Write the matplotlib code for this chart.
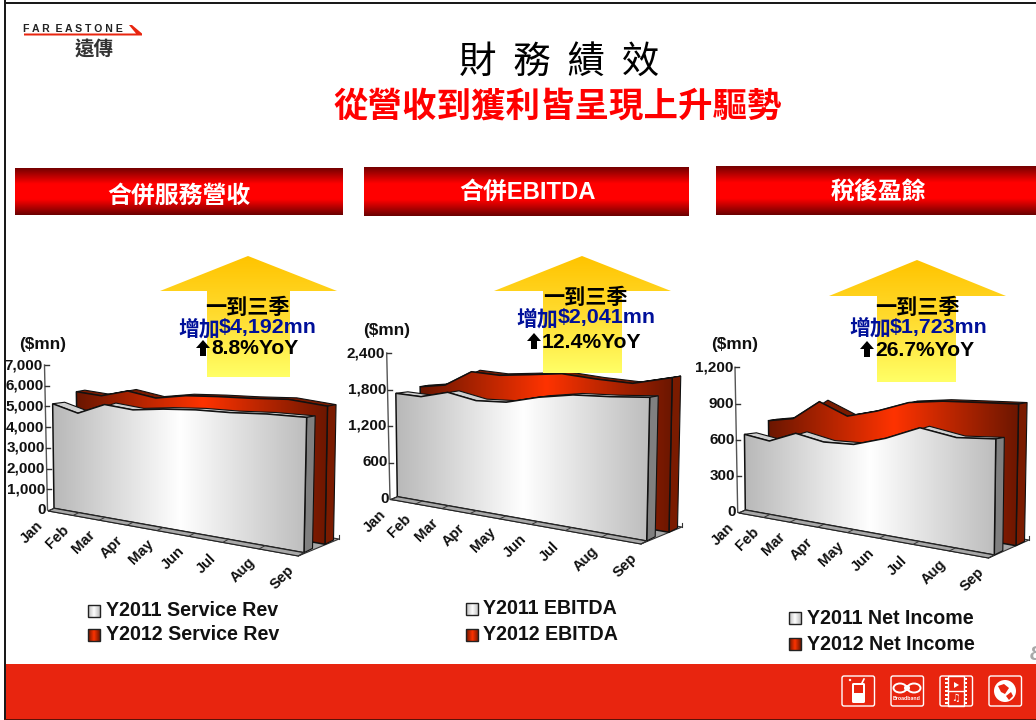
import numpy as np
import matplotlib
matplotlib.use("Agg")
import matplotlib.pyplot as plt
from matplotlib.colors import LinearSegmentedColormap
from matplotlib.patches import Polygon, Rectangle, FancyBboxPatch, Circle, Ellipse

plt.rcParams['font.family'] = ['Liberation Sans', 'Noto Sans CJK TC', 'DejaVu Sans']
CJK = ['Noto Sans CJK TC', 'DejaVu Sans']
LAT = ['Liberation Sans', 'Noto Sans CJK TC']

months = ['Jan', 'Feb', 'Mar', 'Apr', 'May', 'Jun', 'Jul', 'Aug', 'Sep']

rev_2011 = [5217, 4752, 5154, 4909, 4940, 4909, 4805, 4759, 4651]
rev_2012 = [5767, 5539, 5763, 5413, 5514, 5467, 5389, 5347, 5096]
ebitda_2011 = [1750, 1694, 1762, 1636, 1617, 1688, 1719, 1697, 1690]
ebitda_2012 = [1836, 1865, 2085, 2018, 2020, 2027, 1945, 1883, 1954]
ni_2011 = [641, 595, 665, 608, 601, 653, 729, 674, 674]
ni_2012 = [732, 757, 902, 787, 830, 894, 903, 894, 884]

rev_ticks = [0, 1000, 2000, 3000, 4000, 5000, 6000, 7000]
ebitda_ticks = [0, 600, 1200, 1800, 2400]
ni_ticks = [0, 300, 600, 900, 1200]

title = '財  務  績  效'
subtitle = '從營收到獲利皆呈現上升驅勢'
sections = ['合併服務營收', '合併EBITDA', '稅後盈餘']
period = '一到三季'
increase_label = '增加'
increases = ['$4,192mn', '$2,041mn', '$1,723mn']
yoy = ['8.8%YoY', '12.4%YoY', '26.7%YoY']
legend_2011 = ['Y2011 Service Rev', 'Y2011 EBITDA', 'Y2011 Net Income']
legend_2012 = ['Y2012 Service Rev', 'Y2012 EBITDA', 'Y2012 Net Income']

fig = plt.figure(figsize=(10.36, 7.2), dpi=100, facecolor='white')
ax = fig.add_axes([0, 0, 1, 1])
ax.set_xlim(0, 1036)
ax.set_ylim(720, 0)
ax.axis('off')

gray_cm = LinearSegmentedColormap.from_list('g', ['#b8b8b8', '#ffffff', '#bcbcbc'])
red_cm = LinearSegmentedColormap.from_list('r', ['#6a1600', '#ff3300', '#6a1600'])
banner_cm = LinearSegmentedColormap.from_list('b', ['#740000', '#ff0000', '#ff0000', '#6a0000'])
arrow_cm = LinearSegmentedColormap.from_list('a', ['#ffc400', '#ffdc30', '#ffff66'])


def gradient(poly_xy, cmap, box, vertical=False, z=2):
    """Fill a polygon with a linear gradient over box = (x0, y0, x1, y1)."""
    x0, y0, x1, y1 = box
    g = np.linspace(0, 1, 128)
    arr = g[:, None] if vertical else g[None, :]
    im = ax.imshow(arr, cmap=cmap, extent=(x0, x1, y1, y0), aspect='auto',
                   interpolation='bilinear', zorder=z, vmin=0, vmax=1)
    p = Polygon(poly_xy, closed=True, transform=ax.transData)
    im.set_clip_path(p)
    return im


class Wall:
    """Perspective wall: category index + value -> figure pixel."""
    R = 1.3

    def __init__(self, bl, br, tl, tr, vmax):
        self.bl, self.br, self.tl, self.tr = map(np.array, (bl, br, tl, tr))
        self.vmax = vmax

    def s(self, m):
        u = np.asarray(m, float) / 8
        return u / (self.R - (self.R - 1) * u)

    def pt(self, m, v):
        s = self.s(m)[..., None]
        f = (np.asarray(v, float) / self.vmax)[..., None]
        base = self.bl + (self.br - self.bl) * s
        top = self.tl + (self.tr - self.tl) * s
        return base + (top - base) * f


def draw_wall(w, vals, cmap, side, rib, z, dx_left):
    m = np.arange(len(vals))
    vals = np.array(vals, float)
    top = w.pt(m, vals)
    base = w.pt(m, np.zeros_like(vals))
    off = np.column_stack([dx_left + (8.5 - dx_left) * w.s(m), np.full(len(m), -1.5)])
    rear = top + off
    ribbon = np.vstack([top, rear[::-1]])
    ax.add_patch(Polygon(ribbon, closed=True, fc=rib, ec='#111111', lw=0.8, zorder=z))
    br = base[-1]; tr = top[-1]
    ax.add_patch(Polygon([tr, tr + off[-1], br + (8.5, -4.3), br], closed=True,
                         fc=side, ec='#111111', lw=0.8, zorder=z))
    face = np.vstack([top, base[::-1]])
    box = (base[:, 0].min() - 2, top[:, 1].min(), top[:, 0].max() + 2, base[:, 1].max())
    gradient(face, cmap, box, z=z + 0.1)
    ax.add_patch(Polygon(face, closed=True, fc='none', ec='#111111', lw=1.1, zorder=z + 0.2))


def swatch(x0, y0, x1, y1, cmap):
    xy = [(x0, y0), (x1, y0), (x1, y1), (x0, y1)]
    gradient(xy, cmap, (x0, y0, x1, y1), z=3)
    ax.add_patch(Polygon(xy, closed=True, fc='none', ec='#222222', lw=1.0, zorder=3.1))


panels = [
    dict(v11=rev_2011, v12=rev_2012, ticks=rev_ticks,
         front=((54, 508.3), (304, 552.7), (52.2, 368), (308, 349)),
         back=((78, 500), (325, 544.3), (76, 368.5), (328.5, 354.5)),
         axis=((44.5, 365), (47.5, 510)), floor=((48.3, 511), (298.3, 556), (339, 539), (88, 497)),
         unit=(42.5, 344), leg_box=(88, 605, 100, 617), leg_box2=(88, 629, 100, 641),
         leg_txt=(106, 611, 635)),
    dict(v11=ebitda_2011, v12=ebitda_2012, ticks=ebitda_ticks,
         front=((397.3, 496.7), (646.7, 541), (395.3, 354.9), (651, 337)),
         back=((421.3, 488.7), (669, 532.3), (419.8, 355.4), (673, 342.3)),
         axis=((386.7, 353), (390, 499)), floor=((391, 499.5), (641, 544), (682, 527), (430, 484)),
         unit=(387, 331), leg_box=(465.5, 603, 478, 615), leg_box2=(465.5, 628.5, 478, 641),
         leg_txt=(483, 609, 635)),
    dict(v11=ni_2011, v12=ni_2012, ticks=ni_ticks,
         front=((745.3, 510), (994.3, 555), (743.7, 368.3), (997, 348.3)),
         back=((769.3, 502), (1016, 545.7), (768, 368.7), (1019.5, 353.4)),
         axis=((735, 367.3), (737.7, 512.3)), floor=((739, 513), (988.5, 558), (1029, 540), (778, 497)),
         unit=(735, 345), leg_box=(789, 612, 801, 624), leg_box2=(789, 638, 801, 650),
         leg_txt=(807, 618, 645)),
]

for i, p in enumerate(panels):
    ticks = p['ticks']
    vmax = ticks[-1]
    (ax_tx, ax_ty), (ax_bx, ax_by) = p['axis']
    # y axis
    ax.plot([ax_tx, ax_bx], [ax_ty, ax_by], color='#555555', lw=1.0, zorder=1)
    for t in ticks:
        f = t / vmax
        x = ax_bx + (ax_tx - ax_bx) * f
        y = ax_by + (ax_ty - ax_by) * f
        ax.plot([x, x + 4], [y, y], color='#333333', lw=1.0, zorder=1)
        ax.text(x - 1.5, y, f'{t:,}', ha='right', va='center', fontsize=11,
                fontweight='bold', family=LAT, color='#111111', zorder=1.5)
    ax.text(*p['unit'], '($mn)', ha='center', va='center', fontsize=12.4,
            fontweight='bold', family=LAT, color='#111111', zorder=5)

    # floor
    fl = np.array(p['floor'])
    ax.add_patch(Polygon(fl, closed=True, fc='#a8a8a8', ec='#333333', lw=0.8, zorder=1.2))
    ax.plot([fl[2, 0], fl[2, 0]], [fl[2, 1], fl[2, 1] - 4], color='#333333', lw=0.8, zorder=1.2)

    back = Wall(*p['back'], vmax)
    front = Wall(*p['front'], vmax)
    draw_wall(back, p['v12'], red_cm, '#7a1b00', '#7a1b00', 2, 8.5)
    draw_wall(front, p['v11'], gray_cm, '#808080', '#cfcfcf', 3, 12)

    # strip in front of the first wall, month ticks and labels
    mm = np.arange(len(months))
    wb = front.pt(mm, np.zeros(len(mm)))
    s = front.s(mm)[:, None]
    ff = fl[0] + (fl[1] - fl[0]) * s
    ax.add_patch(Polygon(np.vstack([wb, ff[::-1]]), closed=True, fc='#a8a8a8',
                         ec='#222222', lw=0.8, zorder=3.5))
    for a, b in zip(wb, ff):
        ax.plot([a[0], b[0]], [a[1], b[1]], color='#333333', lw=0.7, zorder=3.6)
    for name, c in zip(months, ff):
        ax.text(c[0] - 16, c[1] + 21.5, name, rotation=45, ha='center', va='center',
                rotation_mode='anchor', fontsize=10.6, fontweight='bold', family=LAT,
                color='#111111', zorder=4)

    # legend
    swatch(*p['leg_box'], gray_cm)
    swatch(*p['leg_box2'], red_cm)
    lx, ly1, ly2 = p['leg_txt']
    ax.text(lx, ly1, legend_2011[i], ha='left', va='center', fontsize=14.1,
            fontweight='bold', family=LAT, color='#111111', zorder=4)
    ax.text(lx, ly2, legend_2012[i], ha='left', va='center', fontsize=14.1,
            fontweight='bold', family=LAT, color='#111111', zorder=4)

# big arrows
arrows = [(248, 256, 291, 160, 337, 207, 290, 377),
          (582, 256, 291, 494, 671, 543, 622, 373),
          (917, 260, 296, 829, 1006, 877, 956, 382)]
notes = [dict(c=247, py=307, ix=178, vx=219, iy=328, ax=203, yx=211, yy=349),
         dict(c=585, py=298, ix=516, vx=558, iy=318, ax=534, yx=542, yy=342),
         dict(c=917, py=307, ix=849, vx=890, iy=327, ax=867, yx=875, yy=350)]
for k, ((tx, ty, hb, hl, hr, sl, sr, sb), n) in enumerate(zip(arrows, notes)):
    shape = [(tx, ty), (hr, hb), (sr, hb), (sr, sb), (sl, sb), (sl, hb), (hl, hb)]
    gradient(shape, arrow_cm, (hl, ty, hr, sb), vertical=True, z=6)
    ax.text(n['c'], n['py'], period, ha='center', va='center', fontsize=15.2,
            fontweight='bold', family=CJK, color='black', zorder=7)
    ax.text(n['ix'], n['iy'] + 1, increase_label, ha='left', va='center', fontsize=15,
            fontweight='bold', family=CJK, color='#00109a', zorder=7)
    ax.text(n['vx'], n['iy'], increases[k], ha='left', va='center', fontsize=15.4,
            fontweight='bold', family=LAT, color='#00109a', zorder=7)
    ax.text(n['yx'], n['yy'], yoy[k], ha='left', va='center', fontsize=15.2,
            fontweight='bold', family=LAT, color='black', zorder=7)
    ax_, ay = n['ax'], n['yy'] - 1
    ax.add_patch(Polygon([(ax_, ay - 8), (ax_ + 7, ay), (ax_ + 3, ay), (ax_ + 3, ay + 8),
                          (ax_ - 3, ay + 8), (ax_ - 3, ay), (ax_ - 7, ay)],
                         closed=True, fc='black', ec='none', zorder=7))

# section banners
banners = [(15, 168, 343, 215), (364, 167, 689, 216), (716, 166, 1036, 215)]
banner_tx = [(179, 196), (528, 192), (878, 192)]
for (x0, y0, x1, y1), label, (tx, ty) in zip(banners, sections, banner_tx):
    gradient([(x0, y0), (x1, y0), (x1, y1), (x0, y1)], banner_cm, (x0, y0, x1, y1),
             vertical=True, z=2)
    ax.text(tx, ty, label, ha='center', va='center', fontsize=17.2, fontweight='bold',
            family=LAT, color='white', zorder=3)

# title
ax.text(559, 62, title, ha='center', va='center', fontsize=27, family=CJK,
        color='black', zorder=3)
ax.text(558, 106, subtitle, ha='center', va='center', fontsize=24.8, family=CJK,
        fontweight='bold', color='#ff0000', zorder=3)

# logo
ax.text(23, 28.5, 'F A R  E A S T O N E', ha='left', va='center', fontsize=7.6,
        fontweight='bold', family=LAT, color='#222222', zorder=3)
ax.add_patch(Polygon([(24, 33.5), (136, 33.5), (129, 25), (132, 25), (142, 33.5), (142, 35.5), (24, 35.5)],
                     closed=True, fc='#e8250f', ec='none', zorder=3))
ax.text(94, 49, '遠傳', ha='center', va='center', fontsize=14, fontweight='bold',
        family=CJK, color='#333333', zorder=3)

# footer band and icons
ax.add_patch(Rectangle((0, 664), 1036, 56, fc='#e8250f', ec='none', zorder=8))
ax.text(1030, 655, '8', ha='left', va='center', fontsize=15, fontweight='bold', style='italic',
        family=LAT, color='#a8a8a8', zorder=8)
WH = 'white'
for x0 in (841, 890, 939, 988):
    ax.add_patch(FancyBboxPatch((x0 + 1, 676), 32.5, 30, boxstyle='round,pad=0,rounding_size=2',
                                fc='none', ec=WH, lw=1.0, zorder=9))
# phone
ax.add_patch(FancyBboxPatch((852, 683), 13, 20, boxstyle='round,pad=0,rounding_size=1.5',
                            fc=WH, ec='none', zorder=9))
ax.add_patch(Rectangle((854, 685), 9, 8, fc='#e8250f', ec='none', zorder=9.1))
ax.plot([862, 864], [683, 679], color=WH, lw=1.2, zorder=9)
ax.add_patch(Circle((850, 680), 1.2, fc=WH, ec='none', zorder=9))
# broadband
ax.add_patch(Ellipse((900, 688), 13, 9, fc='none', ec=WH, lw=1.4, zorder=9))
ax.add_patch(Ellipse((914, 688), 13, 9, fc='none', ec=WH, lw=1.4, zorder=9))
ax.add_patch(Circle((907, 688), 3, fc=WH, ec='none', zorder=9))
ax.text(907, 698, 'Broadband', ha='center', va='center', fontsize=3.8, fontweight='bold',
        family=LAT, color=WH, zorder=9)
# film strip
ax.add_patch(Rectangle((948, 676), 16, 30, fc='none', ec=WH, lw=1.0, zorder=9))
for yy in np.arange(678, 706, 4):
    ax.add_patch(Rectangle((945, yy), 2.5, 2.2, fc=WH, ec='none', zorder=9))
    ax.add_patch(Rectangle((964.5, yy), 2.5, 2.2, fc=WH, ec='none', zorder=9))
ax.plot([948, 964], [690.5, 690.5], color=WH, lw=1, zorder=9)
ax.add_patch(Polygon([(954, 682), (959, 685), (954, 688)], closed=True, fc=WH, ec='none', zorder=9))
ax.text(956, 698, '♫', ha='center', va='center', fontsize=7, family=['DejaVu Sans'], color=WH, zorder=9)
# globe
ax.add_patch(Circle((1005, 691), 11, fc=WH, ec='none', zorder=9))
ax.add_patch(Polygon([(998, 686), (1004, 684), (1009, 688), (1005, 694), (1001, 692)],
                     closed=True, fc='#e8250f', ec='none', zorder=9.1))
ax.add_patch(Polygon([(1006, 696), (1011, 692), (1013, 696), (1009, 700)],
                     closed=True, fc='#e8250f', ec='none', zorder=9.1))

# page frame (covers the tick labels that run off the left edge)
ax.add_patch(Rectangle((0, 0), 4, 720, fc='white', ec='none', zorder=10))
ax.add_patch(Rectangle((0, 0), 1036, 2, fc='white', ec='none', zorder=10))
ax.add_patch(Rectangle((4, 0), 2, 720, fc='#1a1a1a', ec='none', zorder=11))
ax.add_patch(Rectangle((4, 2), 1032, 2, fc='#1a1a1a', ec='none', zorder=11))
ax.add_patch(Rectangle((4, 718.5), 1032, 1.5, fc='#5a1208', ec='none', zorder=11))

ax.set_xlim(0, 1036)
ax.set_ylim(720, 0)
fig.savefig('out.png', dpi=100)
